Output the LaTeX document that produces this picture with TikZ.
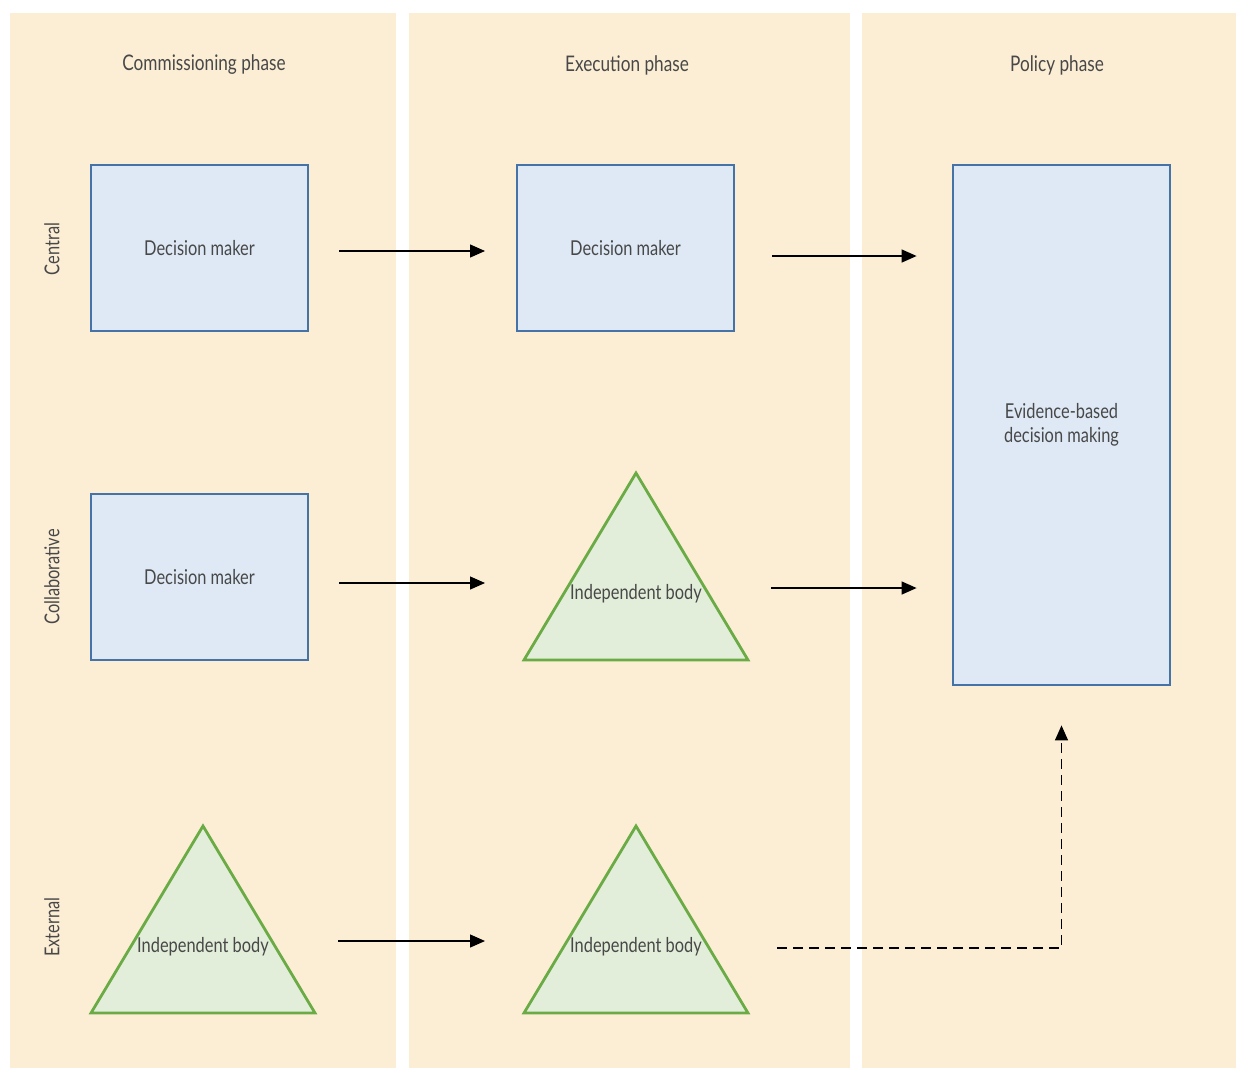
\documentclass[tikz,border=0pt]{standalone}
\usepackage{fontspec}
\setmainfont[FakeStretch=0.8]{Lato}
\usetikzlibrary{arrows.meta,calc}
\definecolor{peach}{HTML}{FCEED5}
\definecolor{boxfill}{HTML}{DEE9F5}
\definecolor{boxline}{HTML}{4573A8}
\definecolor{trifill}{HTML}{E2EED9}
\definecolor{triline}{HTML}{6AAB46}
\definecolor{txt}{HTML}{484848}
\begin{document}
\begin{tikzpicture}[x=1pt,y=-1pt,
  lbl/.style={font=\fontsize{20.5}{24}\selectfont, text=txt, inner sep=0pt, align=center},
  hdr/.style={lbl, font=\fontsize{21.5}{24}\selectfont},
  dbox/.style={lbl, draw=boxline, fill=boxfill, line width=2.8pt, minimum width=217pt, inner sep=0pt},
  tri/.style={draw=triline, fill=trifill, line width=2.8pt, line join=miter},
  arr/.style={line width=1.3pt, -{Triangle[length=15pt,width=13pt]}},
  dsh/.style={dash pattern=on 10pt off 6pt}]
\useasboundingbox[fill=white] (0,0) rectangle (1236,1069);
% columns
\fill[peach] (10,13) rectangle (396,1068);
\fill[peach] (409,13) rectangle (850,1068);
\fill[peach] (862,13) rectangle (1236,1068);
% headers
\node[hdr] (H1) at (204,65) {Commissioning phase};
\node[hdr] (H2) at (627,65) {Execution phase};
\node[hdr] (H3) at (1057,65) {Policy phase};
% row labels
\node[lbl, rotate=90] (R1) at (52,249) {Central};
\node[lbl, rotate=90] (R2) at (52,577) {Collaborative};
\node[lbl, rotate=90] (R3) at (52,927) {External};
% boxes
\node[dbox, minimum height=166pt] (B1) at (199.5,248) {Decision maker};
\node[dbox, minimum height=166pt] (B2) at (625.5,248) {Decision maker};
\node[dbox, minimum height=166pt] (B3) at (199.5,577) {Decision maker};
\node[dbox, minimum height=520pt] (Big) at (1061.5,425) {Evidence-based\\decision making};
% triangles
\coordinate (T1t) at (636,473); \coordinate (T1r) at (748,660); \coordinate (T1l) at (524,660);
\coordinate (T2t) at (203,826); \coordinate (T2r) at (315,1013); \coordinate (T2l) at (91,1013);
\coordinate (T3t) at (636,826); \coordinate (T3r) at (748,1013); \coordinate (T3l) at (524,1013);
\draw[tri] (T1t) -- (T1r) -- (T1l) -- cycle;
\draw[tri] (T2t) -- (T2r) -- (T2l) -- cycle;
\draw[tri] (T3t) -- (T3r) -- (T3l) -- cycle;
\node[lbl] (T1) at (636,594) {Independent body};
\node[lbl] (T2) at (203,947) {Independent body};
\node[lbl] (T3) at (636,947) {Independent body};
% arrows
\draw[arr] ($(B1.east)+(30,3)$) -- ($(B1.east -| T1l)+(-39,3)$);
\draw[arr] ($(B2.east)+(37,8)$) -- ($(B2.east -| Big.west)+(-35,8)$);
\draw[arr] ($(B3.east)+(30,6)$) -- ($(B3.east -| T1l)+(-39,6)$);
\draw[arr] ($(T1 -| T1r)+(23,-6)$) -- ($(T1 -| Big.west)+(-35,-6)$);
\draw[arr] ($(T2 -| T2r)+(23,-6)$) -- ($(T2 -| T3l)+(-39,-6)$);
\draw[arr, dsh] ($(T3 -| T3r)+(29,1)$) -| ($(Big.south)+(0,39)$);
\end{tikzpicture}
\end{document}
